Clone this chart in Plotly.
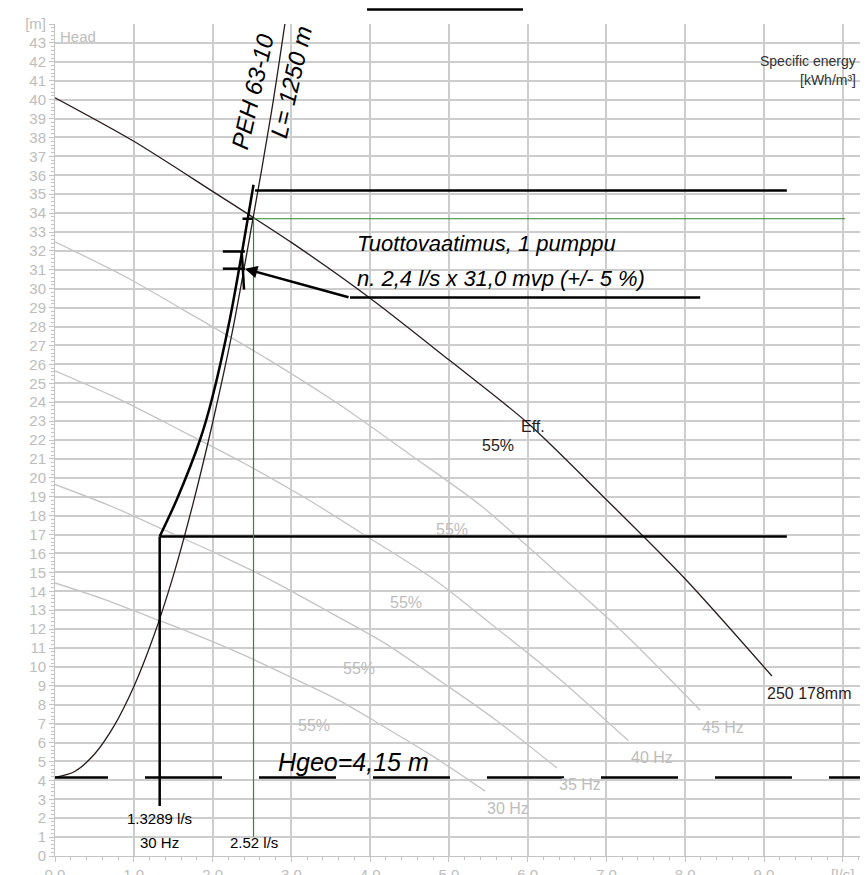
import plotly.graph_objects as go

# ---------------- data ----------------
# pump curves at different speeds (flow l/s, head m)
flow_50 = [0, 1.0, 2.0, 3.0, 4.0, 5.0, 6.0, 7.0, 8.0, 9.1]
head_50 = [40.1, 37.8, 35.15, 32.45, 29.5, 26.24, 22.9, 18.84, 14.65, 9.52]
flow_45 = [0, 0.9, 1.8, 2.7, 3.6, 4.5, 5.4, 6.3, 7.2, 8.19]
head_45 = [32.48, 30.62, 28.47, 26.28, 23.9, 21.25, 18.55, 15.26, 11.87, 7.71]
flow_40 = [0, 0.8, 1.6, 2.4, 3.2, 4.0, 4.8, 5.6, 6.4, 7.28]
head_40 = [25.66, 24.19, 22.5, 20.77, 18.88, 16.79, 14.66, 12.06, 9.38, 6.09]
flow_35 = [0, 0.7, 1.4, 2.1, 2.8, 3.5, 4.2, 4.9, 5.6, 6.37]
head_35 = [19.65, 18.52, 17.22, 15.9, 14.46, 12.86, 11.22, 9.23, 7.18, 4.66]
flow_30 = [0, 0.6, 1.2, 1.8, 2.4, 3.0, 3.6, 4.2, 4.8, 5.46]
head_30 = [14.44, 13.61, 12.65, 11.68, 10.62, 9.45, 8.24, 6.78, 5.27, 3.43]
speed_labels = ["45 Hz", "40 Hz", "35 Hz", "30 Hz"]

# system curve PEH 63-10, L=1250 m
sys_flow = [0, 0.25, 0.5, 0.75, 1.0, 1.25, 1.5, 1.75, 2.0, 2.25, 2.5, 2.75, 2.95]
sys_head = [4.15, 4.47, 5.38, 6.88, 8.95, 11.59, 14.8, 18.6, 22.9, 27.7, 33.4, 39.4, 44.9]

# thick requirement curve
req_flow = [1.3289, 1.545, 1.84, 1.99, 2.22, 2.52]
req_head = [16.9, 18.84, 22.0, 24.13, 28.4, 35.5]

hgeo = 4.15
q_min = 1.3289
h_min = 16.9
q_op = 2.52
h_op = 33.7
h_top = 35.2
q_end = 9.29
q_req = 2.41
h_req = 31.06
h_req_hi = 31.97
h_req_lo = 29.95

# efficiency labels
eff_flow = [5.62, 5.04, 4.46, 3.86, 3.29]
eff_head = [21.71, 17.29, 13.40, 9.90, 6.89]

FONT = "Liberation Sans, Arial, sans-serif"
GRAY = "#bdbdbd"
DARK = "#2a1c1c"

fig = go.Figure()

def line(x, y, color="black", width=2.5, shape="linear", dash="solid"):
    fig.add_trace(go.Scatter(x=x, y=y, mode="lines", hoverinfo="skip",
                             line=dict(color=color, width=width, shape=shape, dash=dash,
                                       smoothing=0.8 if shape == "spline" else None)))

# gray speed curves
for fx, hy in [(flow_45, head_45), (flow_40, head_40), (flow_35, head_35), (flow_30, head_30)]:
    line(fx, hy, color="#c4c4c4", width=1.3, shape="spline")
# 50 Hz
line(flow_50, head_50, color=DARK, width=1.3, shape="spline")
# system curve
line(sys_flow, sys_head, color=DARK, width=1.3, shape="spline")
# hgeo dashed
line([-0.305, 10.5], [hgeo, hgeo], width=2.5, dash="77px,37px")
# requirement curve
line(req_flow, req_head, width=2.5, shape="spline")
line([q_min, q_min], [h_min, 2.65])
line([q_min, q_end], [h_min, h_min])
line([2.54, q_end], [h_top, h_top])
line([2.13, q_req], [h_req_hi, h_req_hi])
line([2.13, q_req], [h_req, h_req])
line([2.37, 2.40], [h_req_hi, h_req_lo])
line([2.38, q_op], [h_op, h_op])
# green operating point lines
line([q_op, q_op, 10.03], [1.02, h_op, h_op], color="#2e8b2e", width=1.2)
# underline of requirement text
line([3.745, 8.19], [29.53, 29.53], width=2.5)

ann = []
def text(x, y, t, size=16, color="black", xanchor="center", yanchor="middle", italic=False, angle=0):
    ann.append(dict(x=x, y=y, text=t, showarrow=False, xanchor=xanchor, yanchor=yanchor,
                    textangle=angle,
                    font=dict(family=FONT, size=size, color=color,
                              style="italic" if italic else "normal")))

text(0.04, 43.33, "Head", size=15, color=GRAY, xanchor="left")
text(10.19, 42.05, "Specific energy", size=14, color="#333333", xanchor="right")
text(10.19, 41.05, "[kWh/m³]", size=14, color="#333333", xanchor="right")
text(2.51, 40.42, "PEH 63-10", size=24, italic=True, angle=-77)
text(3.0, 40.95, "L= 1250 m", size=24, italic=True, angle=-77)
text(3.81, 32.4, "Tuottovaatimus, 1 pumppu", size=22, italic=True, xanchor="left")
text(3.81, 30.55, "n. 2,4 l/s x 31,0 mvp (+/- 5 %)", size=22, italic=True, xanchor="left")
text(3.79, 4.97, "Hgeo=4,15 m", size=25, italic=True)
text(6.07, 22.71, "Eff.", size=16, color=DARK)
text(eff_flow[0], eff_head[0], "55%", size=16, color=DARK)
for fx, hy in zip(eff_flow[1:], eff_head[1:]):
    text(fx, hy, "55%", size=16, color=GRAY)
text(9.58, 8.62, "250 178mm", size=16, color=DARK)
for lab, fx, hy in zip(speed_labels, [flow_45, flow_40, flow_35, flow_30],
                       [head_45, head_40, head_35, head_30]):
    text(fx[-1], hy[-1] - 0.9, lab, size=16, color=GRAY, xanchor="left")
text(q_min, 1.96, f"{q_min} l/s", size=15)
text(q_min, 0.72, "30 Hz", size=15)
text(q_op, 0.72, f"{q_op} l/s", size=15)

ann.append(dict(x=q_req, y=h_req, ax=3.745, ay=29.53, axref="x", ayref="y", xref="x", yref="y",
                text="", showarrow=True, arrowhead=2, arrowsize=1.0, arrowwidth=2.5,
                arrowcolor="black"))

xt = list(range(0, 11))
yt = list(range(0, 45))
fig.update_layout(
    width=860, height=867,
    margin=dict(l=47, r=0, t=16, b=19, autoexpand=False),
    plot_bgcolor="white", paper_bgcolor="white",
    showlegend=False,
    annotations=ann,
    shapes=[dict(type="line", xref="paper", yref="paper", x0=0.3838, x1=0.5756,
                 y0=1.0175, y1=1.0175, line=dict(color="black", width=2.5))],
    xaxis=dict(range=[0, 10.32], tickvals=xt, automargin=False,
               ticktext=[f"{v:.1f}" for v in xt[:-1]] + ["[l/s]"],
               showgrid=True, gridcolor="#cdcdcd", gridwidth=1.5, zeroline=False,
               showline=True, linecolor="#c4c4c4", linewidth=1,
               ticks="outside", ticklen=5, tickcolor="#c4c4c4",
               minor=dict(dtick=0.2, ticks="outside", ticklen=3, tickcolor="#c4c4c4", showgrid=False),
               tickfont=dict(family=FONT, size=15, color=GRAY)),
    yaxis=dict(range=[0, 44], tickvals=yt, automargin=False,
               ticktext=[str(v) for v in yt[:-1]] + ["[m]"],
               showgrid=True, gridcolor="#cdcdcd", gridwidth=1.5, zeroline=False,
               showline=True, linecolor="#c4c4c4", linewidth=1,
               ticks="outside", ticklen=5, tickcolor="#c4c4c4",
               minor=dict(dtick=0.2, ticks="outside", ticklen=3, tickcolor="#c4c4c4", showgrid=False),
               tickfont=dict(family=FONT, size=15, color=GRAY)),
)

fig.write_html("out.html")
